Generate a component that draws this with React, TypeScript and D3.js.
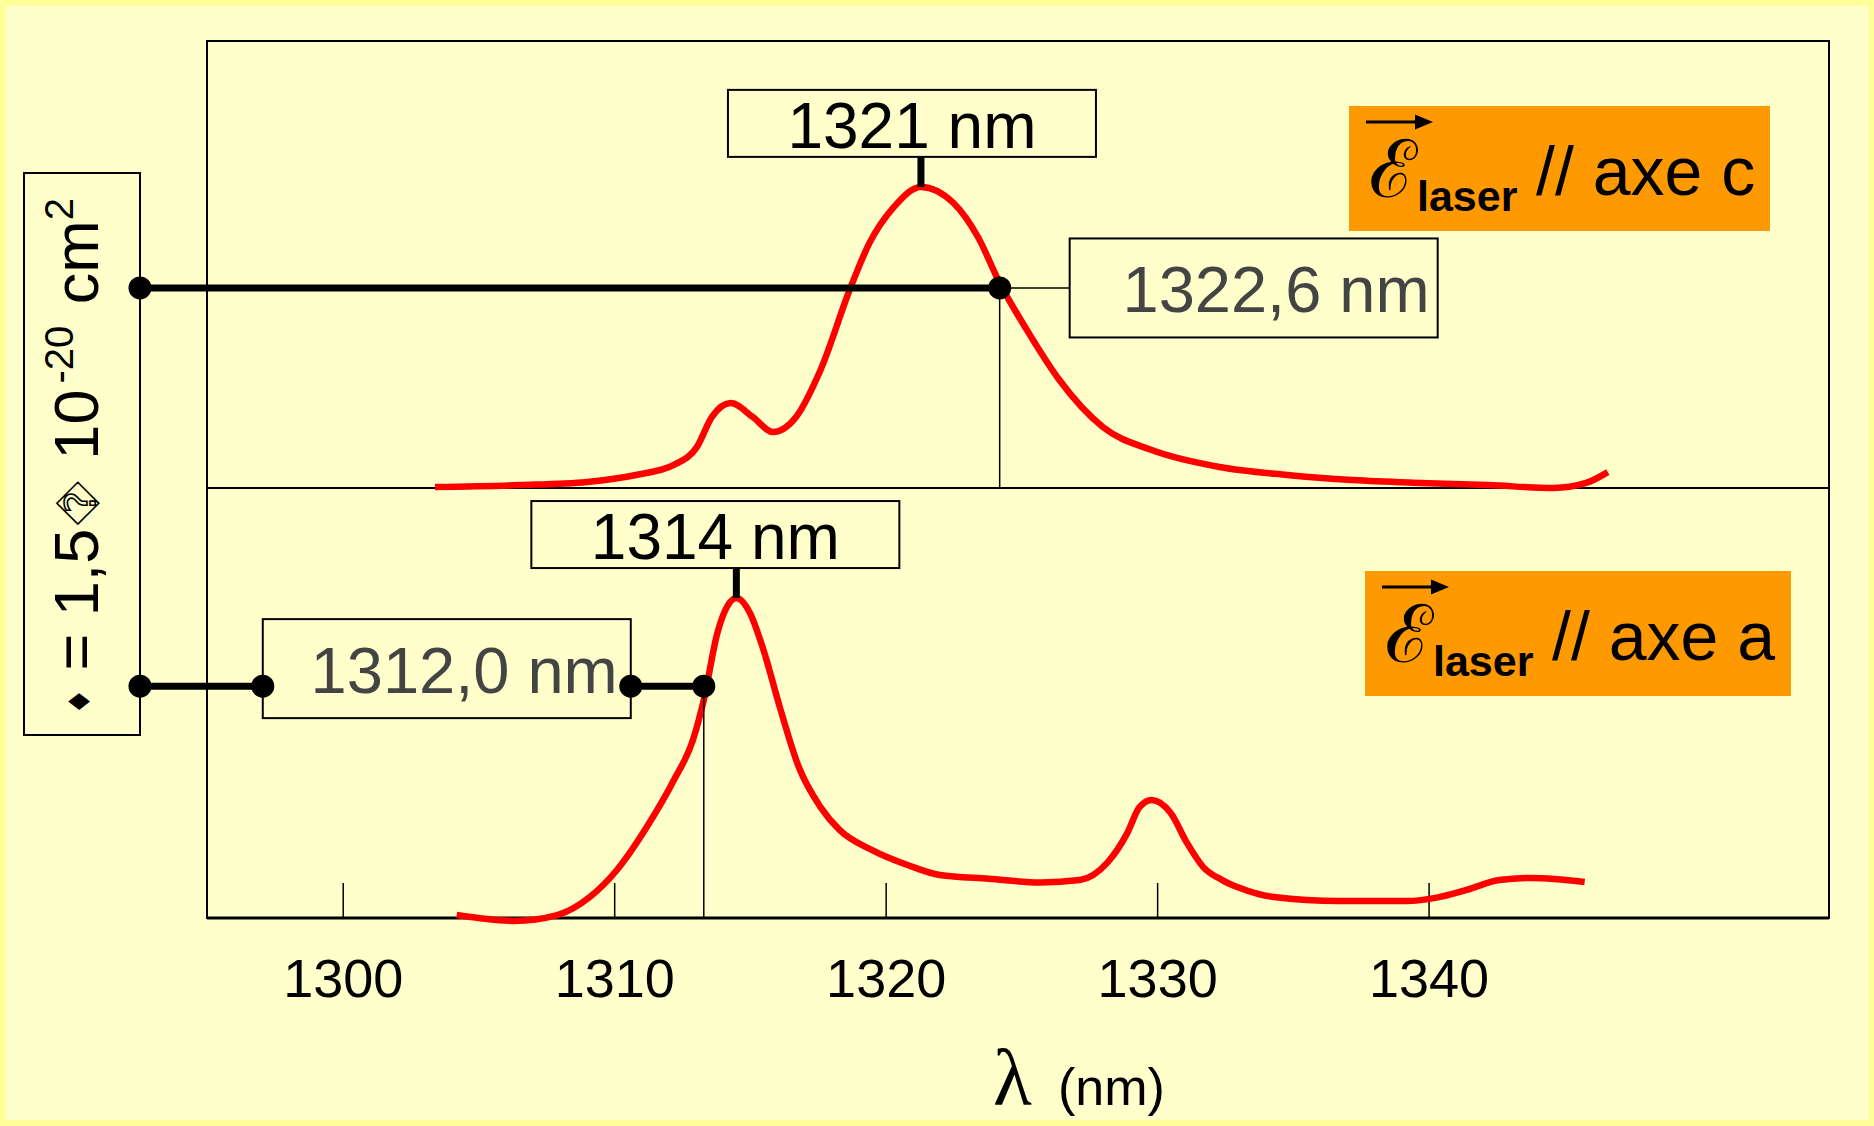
import React, { useEffect, useRef } from 'react';
import * as d3 from 'd3';

const WIDTH = 1874;
const HEIGHT = 1126;

// E // axe c spectrum (upper panel): wavelength in nm, cross-section in 1e-20 cm2
const lambdaAxeC = [1303.4, 1306.5, 1309.0, 1310.8, 1312.2, 1313.05, 1313.6, 1314.3, 1315.1, 1315.85, 1316.7, 1317.6, 1318.7, 1319.4, 1320.3, 1321.3, 1322.5, 1323.4, 1324.2, 1325.2, 1326.4, 1328.0, 1329.8, 1332.3, 1334.8, 1337.2, 1339.7, 1342.2, 1344.6, 1345.8, 1346.6];
const sigmaAxeC = [0.004, 0.011, 0.023, 0.049, 0.087, 0.155, 0.268, 0.32, 0.268, 0.211, 0.268, 0.445, 0.754, 0.923, 1.059, 1.135, 1.074, 0.946, 0.773, 0.596, 0.407, 0.23, 0.143, 0.079, 0.049, 0.03, 0.019, 0.011, 0.0, 0.019, 0.06];

// E // axe a spectrum (lower panel)
const lambdaAxeA = [1304.2, 1306.3, 1307.9, 1309.1, 1310.1, 1311.2, 1312.2, 1312.9, 1313.3, 1313.8, 1314.15, 1314.5, 1315.0, 1315.5, 1316.1, 1316.8, 1317.6, 1318.3, 1319.5, 1320.8, 1322.0, 1323.8, 1325.7, 1327.15, 1328.15, 1328.9, 1329.35, 1329.8, 1330.5, 1331.1, 1331.7, 1332.4, 1333.05, 1334.3, 1336.7, 1339.2, 1340.2, 1341.4, 1342.6, 1343.8, 1345.75];
const sigmaAxeA = [0.011, -0.011, 0.011, 0.079, 0.181, 0.343, 0.52, 0.671, 0.822, 1.074, 1.172, 1.206, 1.15, 1.01, 0.795, 0.569, 0.418, 0.332, 0.256, 0.2, 0.162, 0.148, 0.134, 0.143, 0.207, 0.32, 0.418, 0.445, 0.396, 0.283, 0.192, 0.143, 0.113, 0.079, 0.064, 0.064, 0.075, 0.106, 0.143, 0.151, 0.136];

const xTicks = [1300, 1310, 1320, 1330, 1340];

const peakLabels = ['1321 nm', '1314 nm'];
const peakLambda = [1321.3, 1314.5];

const markLabels = ['1322,6 nm', '1312,0 nm'];
const markLambda = [1324.2, 1313.3];
const markSigma = [0.754, 0.874];

const legendAxes = ['c', 'a'];

const SANS = '"Liberation Sans", Arial, sans-serif';
const BG = '#FFFFCC';

const App = () => {
  const axisRef = useRef<SVGGElement>(null);

  const left = 207, right = 1829, top = 41, mid = 488, bottom = 918;
  const pxPerSigma = 265.3; // scale bar: 1,5e-20 cm2 = 398 px

  const x = d3.scaleLinear().domain([1295, 1354.75]).range([left, right]);
  const yC = d3.scaleLinear().domain([0, (mid - top) / pxPerSigma]).range([mid, top]);
  const yA = d3.scaleLinear().domain([0, (bottom - mid) / pxPerSigma]).range([bottom, mid]);

  const panels = [
    { lam: lambdaAxeC, sig: sigmaAxeC, y: yC, base: mid, peakShift: -9, legend: [1349, 106, 421] },
    { lam: lambdaAxeA, sig: sigmaAxeA, y: yA, base: bottom, peakShift: -21, legend: [1365, 571, 426] },
  ];

  useEffect(() => {
    const g = d3.select(axisRef.current);
    g.selectAll('*').remove();
    g.call(d3.axisBottom(x).tickValues(xTicks).tickSize(-35).tickPadding(41).tickFormat(d3.format('d')));
    g.select('.domain').remove();
    g.selectAll('.tick line').attr('stroke', '#000').attr('stroke-width', 1.5);
    g.selectAll('.tick text')
      .attr('fill', '#000')
      .style('font-family', SANS)
      .style('font-size', '54px');
  }, []);

  const barX = 140;

  return (
    <svg width={WIDTH} height={HEIGHT} style={{ position: 'absolute', left: 0, top: 0 }}>
      <rect x={0} y={0} width={WIDTH} height={HEIGHT} fill="#FFFF99" />
      <rect x={6} y={6} width={WIDTH - 12} height={HEIGHT - 12} fill={BG} />

      {/* plot frame */}
      <rect x={left} y={top} width={right - left} height={bottom - top} fill="none" stroke="#000" strokeWidth={2} />
      <line x1={left} x2={right} y1={mid} y2={mid} stroke="#000" strokeWidth={2} />
      <line x1={left} x2={right} y1={bottom} y2={bottom} stroke="#000" strokeWidth={3} />
      <g ref={axisRef} transform={`translate(0,${bottom})`} />

      {/* curves */}
      {panels.map((p, i) => {
        const pts = p.lam.map((l, j) => [l, p.sig[j]] as [number, number]);
        const line = d3.line<[number, number]>()
          .x((d) => x(d[0]))
          .y((d) => p.y(d[1]))
          .curve(d3.curveMonotoneX);
        return <path key={i} d={line(pts) || ''} fill="none" stroke="#FF0000" strokeWidth={6.5} />;
      })}

      {/* scale bar box */}
      <rect x={24} y={173} width={barX - 24} height={562} fill={BG} stroke="#000" strokeWidth={2} />
      <text transform="translate(98,715) rotate(-90)" fontFamily={SANS} fontSize={63} fill="#000">
        <tspan fontFamily="DejaVu Sans" fontSize={30} dy={-8}>♦</tspan>
        <tspan dy={8}> = 1,5</tspan>
        <tspan fontFamily="DejaVu Sans" fontSize={42} dx={4} dy={-3} fill={BG} stroke="#000" strokeWidth={1.6}>{'\uFFFD'}</tspan>
        <tspan dx={22} dy={3}>10</tspan>
        <tspan fontSize={40} dx={6} dy={-25}>-20</tspan>
        <tspan dx={4} dy={25}> cm</tspan>
        <tspan fontSize={40} dy={-25}>2</tspan>
      </text>

      {/* width markers */}
      {panels.map((p, i) => {
        const px = x(markLambda[i]);
        const py = p.y(markSigma[i]);
        const onRight = i === 0;
        const bw = 368;
        const bh = 99;
        const bx = onRight ? px + 70 : px - 73 - bw;
        const by = onRight ? py - bh / 2 : py - 67;
        return (
          <g key={i}>
            <line x1={px} x2={px} y1={py} y2={p.base} stroke="#000" strokeWidth={1.5} />
            {onRight && <line x1={px} x2={bx} y1={py} y2={py} stroke="#000" strokeWidth={1.5} />}
            <line x1={barX} x2={px} y1={py} y2={py} stroke="#000" strokeWidth={7} />
            <rect x={bx} y={by} width={bw} height={bh} fill={BG} stroke="#000" strokeWidth={2} />
            <text x={bx + bw - (onRight ? 8 : 13)} y={by + 74} textAnchor="end" fontFamily={SANS} fontSize={65} fill="#444">
              {markLabels[i]}
            </text>
            <circle cx={barX} cy={py} r={11.5} fill="#000" />
            <circle cx={px} cy={py} r={11.5} fill="#000" />
            {!onRight && <circle cx={bx} cy={py} r={11.5} fill="#000" />}
            {!onRight && <circle cx={bx + bw} cy={py} r={11.5} fill="#000" />}
          </g>
        );
      })}

      {/* peak labels */}
      {panels.map((p, i) => {
        const px = x(peakLambda[i]);
        const py = p.y(d3.max(p.sig) as number);
        const bw = 368;
        const bh = 67;
        const bx = px + p.peakShift - bw / 2;
        const by = py - 30 - bh;
        return (
          <g key={i}>
            <line x1={px} x2={px} y1={by + bh} y2={py} stroke="#000" strokeWidth={7} />
            <rect x={bx} y={by} width={bw} height={bh} fill={BG} stroke="#000" strokeWidth={2} />
            <text x={bx + bw / 2} y={by + 58} textAnchor="middle" fontFamily={SANS} fontSize={64} fill="#000">
              {peakLabels[i]}
            </text>
          </g>
        );
      })}

      {/* legends */}
      {panels.map((p, i) => {
        const [lx, ly, lw] = p.legend;
        return (
          <g key={i} transform={`translate(${lx},${ly})`}>
            <rect width={lw} height={125} fill="#FF9900" />
            <line x1={17} x2={70} y1={16} y2={16} stroke="#000" strokeWidth={3} />
            <path d="M66,8.5 L84,16 L66,23.5 Z" fill="#000" />
            <text x={20} y={91} fontFamily="DejaVu Serif" fontSize={80} fill="#000">ℰ</text>
            <text x={68} y={105} fontFamily={SANS} fontWeight="bold" fontSize={43} fill="#000">laser</text>
            <text x={187} y={89} fontFamily={SANS} fontSize={68} fill="#000">{`// axe ${legendAxes[i]}`}</text>
          </g>
        );
      })}

      {/* x axis title */}
      <text x={993} y={1105} fontFamily='"Liberation Serif", serif' fontSize={80} fill="#000">λ</text>
      <text x={1058} y={1105} fontFamily={SANS} fontSize={52} fill="#000">(nm)</text>
    </svg>
  );
};

export default App;
